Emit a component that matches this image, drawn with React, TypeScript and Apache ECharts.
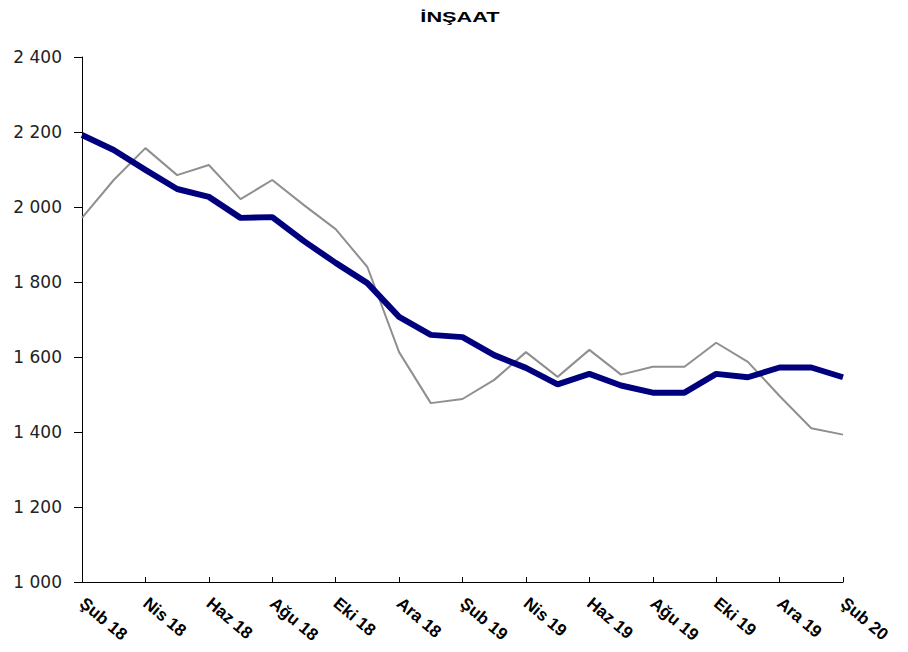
import React, { useEffect, useRef } from "react";
import * as echarts from "echarts";

const months = [
  "Şub 18", "Mar 18", "Nis 18", "May 18", "Haz 18", "Tem 18", "Ağu 18", "Eyl 18", "Eki 18", "Kas 18", "Ara 18", "Oca 19",
  "Şub 19", "Mar 19", "Nis 19", "May 19", "Haz 19", "Tem 19", "Ağu 19", "Eyl 19", "Eki 19", "Kas 19", "Ara 19", "Oca 20",
  "Şub 20",
];

const trendSeries = [
  2192, 2152, 2099, 2048, 2027, 1971, 1973, 1909, 1851, 1797, 1707, 1659,
  1653, 1605, 1571, 1527, 1555, 1524, 1505, 1505, 1555, 1546, 1572, 1572,
  1546,
];

const rawSeries = [
  1971, 2072, 2157, 2085, 2112, 2021, 2072, 2005, 1941, 1840, 1613, 1477,
  1488, 1539, 1613, 1547, 1619, 1553, 1574, 1574, 1638, 1587, 1496, 1410,
  1393,
];

const titleText = "İNŞAAT";
const yTicks = { min: 1000, max: 2400, interval: 200 };

const fmt = (v: number) => {
  const s = String(Math.round(v));
  return s.replace(/\B(?=(\d{3})+(?!\d))/g, " ");
};

export default function App() {
  const ref = useRef<HTMLDivElement>(null);
  useEffect(() => {
    if (!ref.current) return;
    const chart = echarts.init(ref.current, null, { renderer: "svg" });
    chart.setOption({
      animation: false,
      backgroundColor: "#ffffff",
      graphic: [
        {
          type: "text",
          x: 452,
          y: 9,
          scaleX: 1.45,
          style: {
            text: titleText,
            align: "center",
            verticalAlign: "middle",
            font: "bold 15px 'Liberation Sans', Arial, sans-serif",
            fill: "#000",
          },
        },
      ],
      grid: { left: 74, right: 65, top: 49, bottom: 70, containLabel: false, outerBoundsMode: "none" },
      xAxis: {
        type: "category",
        data: months,
        boundaryGap: false,
        axisLine: { lineStyle: { color: "#000", width: 1 } },
        axisTick: { inside: true, interval: 1, length: 5, lineStyle: { color: "#000" } },
        axisLabel: {
          interval: 1,
          rotate: -40,
          margin: 19,
          fontFamily: "Liberation Sans, Arial",
          fontSize: 17,
          fontWeight: "bold",
          color: "#000",
        },
        splitLine: { show: false },
      },
      yAxis: {
        type: "value",
        min: yTicks.min,
        max: yTicks.max,
        interval: yTicks.interval,
        axisLine: { show: true, lineStyle: { color: "#000", width: 1 } },
        axisTick: { show: true, length: 8, lineStyle: { color: "#000" } },
        axisLabel: {
          formatter: fmt,
          fontFamily: "DejaVu Sans, Liberation Sans, Arial",
          fontSize: 17,
          color: "#222",
          margin: 20,
        },
        splitLine: { show: false },
      },
      series: [
        {
          type: "line",
          data: rawSeries,
          symbol: "none",
          lineStyle: { color: "#8f8f8f", width: 2 },
          z: 2,
        },
        {
          type: "line",
          data: trendSeries,
          symbol: "none",
          lineStyle: { color: "#00007f", width: 6 },
          z: 3,
        },
      ],
    });
    return () => chart.dispose();
  }, []);
  return <div ref={ref} style={{ width: 900, height: 644 }} />;
}
